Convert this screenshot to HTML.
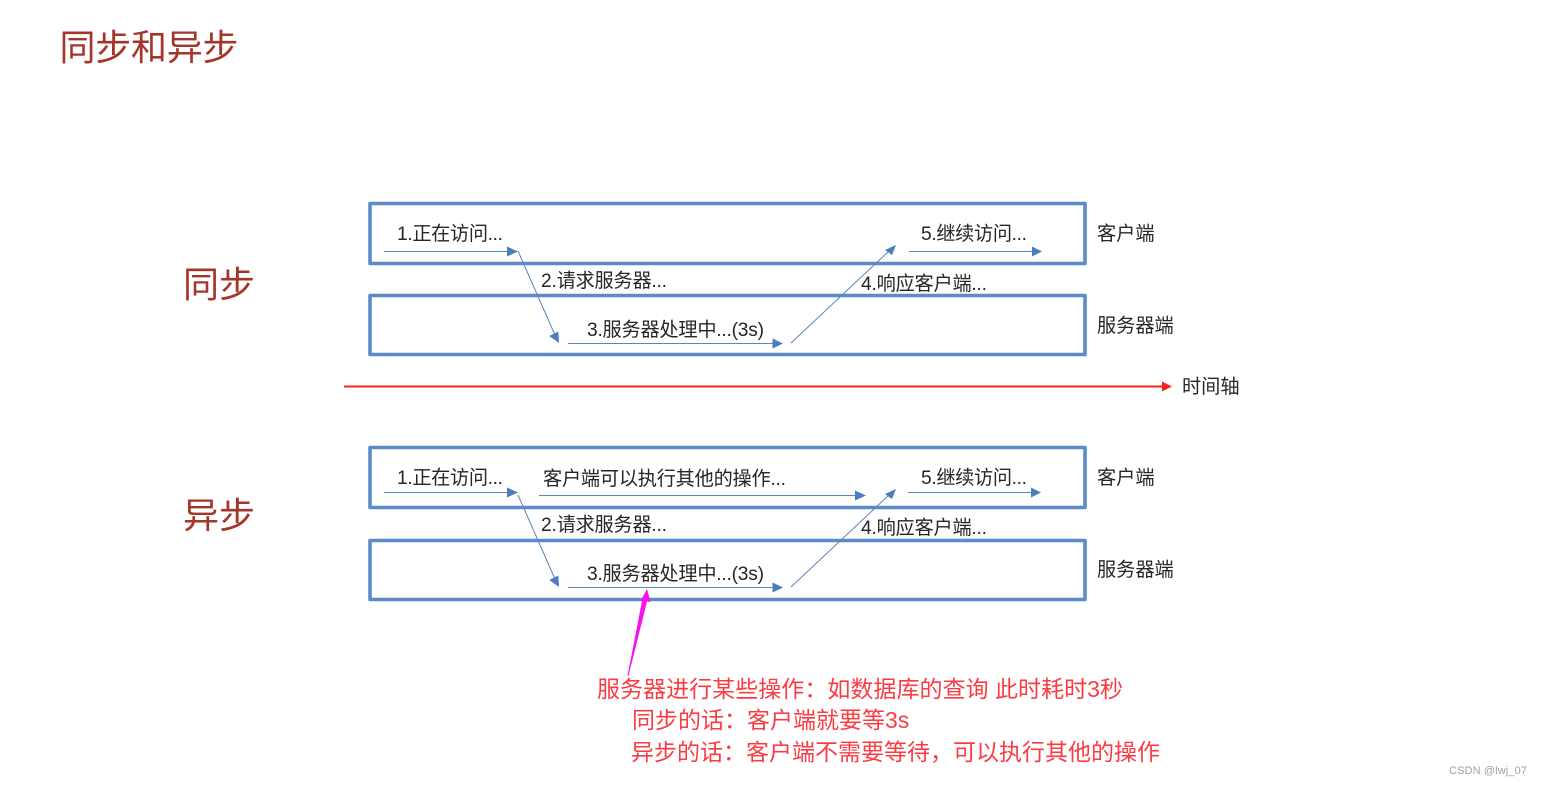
<!DOCTYPE html>
<html lang="zh">
<head>
<meta charset="utf-8">
<style>
html,body{margin:0;padding:0;background:#fff;width:1542px;height:786px;overflow:hidden}
svg{display:block}
text{font-family:"Liberation Sans","Noto Sans CJK SC",sans-serif}
.l{font-size:19.2px;fill:#262626}
.h{font-size:36px;fill:#a5352b}
.r{font-size:23px;fill:#fb3b42}
.box{fill:none;stroke:#5b8bc9;stroke-width:3.6;stroke-linejoin:round}
.c{stroke:#5a86bf;stroke-width:1;fill:none}
.a{fill:#4a7ebb}
</style>
</head>
<body>
<svg width="1542" height="786" viewBox="0 0 1542 786" xmlns="http://www.w3.org/2000/svg">
<text class="h" x="59.500" y="60" textLength="179">同步和异步</text>
<text class="h" x="183" y="297" textLength="72">同步</text>
<text class="h" x="183" y="528" textLength="72">异步</text>

<!-- sync -->
<rect class="box" x="370" y="203.500" width="715" height="60"/>
<rect class="box" x="370" y="295.500" width="715" height="59"/>
<line class="c" x1="384" y1="251.500" x2="510" y2="251.500"/><polygon class="a" points="507,246.500 518,251.500 507,256.500"/>
<line class="c" x1="518" y1="251" x2="555" y2="335"/><polygon class="a" points="549.300,336 559,343 558.300,331.500"/>
<line class="c" x1="568" y1="343.500" x2="775" y2="343.500"/><polygon class="a" points="772.500,338.500 783,343.500 772.500,348.500"/>
<line class="c" x1="791" y1="343" x2="889" y2="251"/><polygon class="a" points="885,250 896,245 892,255"/>
<line class="c" x1="909" y1="251.500" x2="1034" y2="251.500"/><polygon class="a" points="1032,246.500 1042,251.500 1032,256.500"/>
<text class="l" x="397" y="240" textLength="106">1.正在访问...</text>
<text class="l" x="541" y="287" textLength="126">2.请求服务器...</text>
<text class="l" x="587" y="336" textLength="177">3.服务器处理中...(3s)</text>
<text class="l" x="861" y="290" textLength="126">4.响应客户端...</text>
<text class="l" x="921" y="240" textLength="106">5.继续访问...</text>
<text class="l" x="1097" y="240">客户端</text>
<text class="l" x="1097" y="332">服务器端</text>

<!-- timeline -->
<line x1="344" y1="386.500" x2="1164" y2="386.500" stroke="#f8231a" stroke-width="2"/>
<polygon fill="#f8231a" points="1162,381.500 1172,386.500 1162,391.500"/>
<text class="l" x="1182" y="393">时间轴</text>

<!-- async -->
<rect class="box" x="370" y="447.500" width="715" height="60"/>
<rect class="box" x="370" y="540.500" width="715" height="59"/>
<line class="c" x1="384" y1="492.500" x2="510" y2="492.500"/><polygon class="a" points="507,487.500 518,492.500 507,497.500"/>
<line class="c" x1="539" y1="495.500" x2="858" y2="495.500"/><polygon class="a" points="855,490.500 866,495.500 855,500.500"/>
<line class="c" x1="518" y1="495" x2="555" y2="579"/><polygon class="a" points="549.300,580 559,587 558.300,575.500"/>
<line class="c" x1="568" y1="587.500" x2="775" y2="587.500"/><polygon class="a" points="772.500,582.500 783,587.500 772.500,592.500"/>
<line class="c" x1="791" y1="587" x2="889" y2="495"/><polygon class="a" points="885,494 896,489 892,499"/>
<line class="c" x1="908" y1="492.500" x2="1033" y2="492.500"/><polygon class="a" points="1031,487.500 1041,492.500 1031,497.500"/>
<text class="l" x="397" y="484" textLength="106">1.正在访问...</text>
<text class="l" x="543" y="485" textLength="243">客户端可以执行其他的操作...</text>
<text class="l" x="541" y="531" textLength="126">2.请求服务器...</text>
<text class="l" x="587" y="580" textLength="177">3.服务器处理中...(3s)</text>
<text class="l" x="861" y="534" textLength="126">4.响应客户端...</text>
<text class="l" x="921" y="484" textLength="106">5.继续访问...</text>
<text class="l" x="1097" y="484">客户端</text>
<text class="l" x="1097" y="576">服务器端</text>

<!-- magenta arrow -->
<polygon fill="#f511f0" points="627.500,676 642,601 640.500,601 647,589 650.500,602 647,601.500 628.500,676"/>

<text class="r" x="597" y="697" textLength="526">服务器进行某些操作：如数据库的查询 此时耗时3秒</text>
<text class="r" x="632" y="728">同步的话：客户端就要等3s</text>
<text class="r" x="631" y="760">异步的话：客户端不需要等待，可以执行其他的操作</text>

<text x="1449" y="774" font-size="11px" fill="#a0a0a0" textLength="78">CSDN @lwj_07</text>
</svg>
</body>
</html>
